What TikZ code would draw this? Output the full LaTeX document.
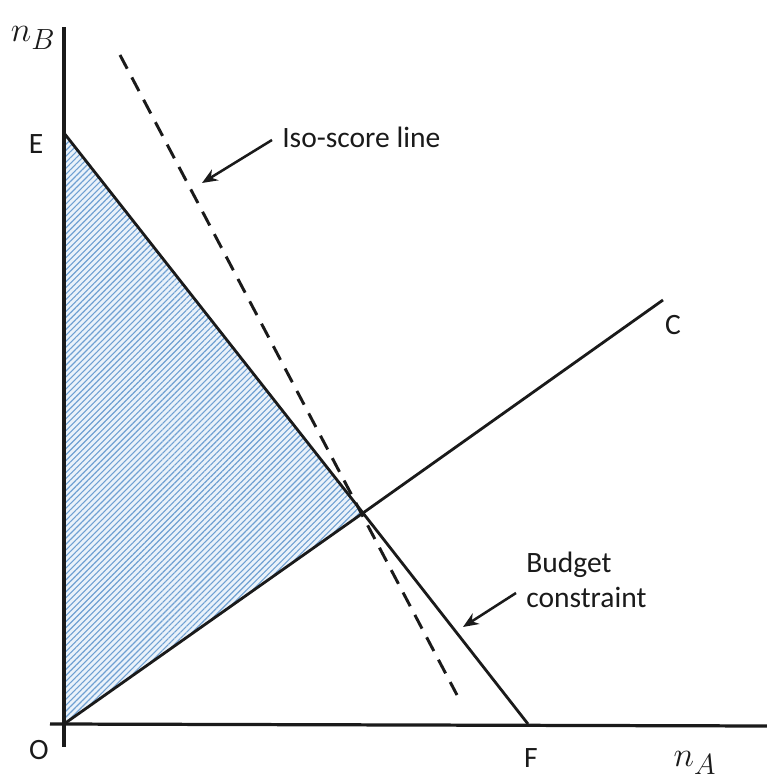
\documentclass[tikz,border=0pt]{standalone}
\usepackage{fontspec}
\setmainfont{Carlito}
\usepackage{tikz}
\usetikzlibrary{arrows.meta,patterns.meta}
\definecolor{ink}{HTML}{1A1A1A}
\definecolor{hatch}{HTML}{6FA0D2}
\definecolor{paleblue}{HTML}{EAF2FA}
\tikzset{axis/.style={line width=2.3pt,draw=ink},
  budget/.style={line width=2pt,draw=ink},
  isoline/.style={line width=2.1pt,draw=ink,dash pattern=on 11pt off 7pt},
  pointer/.style={-{Stealth[length=11pt,width=9pt]},line width=1.8pt,draw=ink},
  lab/.style={font=\fontsize{21}{25}\selectfont,text=ink,inner sep=0pt},
  mlab/.style={font=\fontsize{32}{36}\selectfont,text=ink,inner sep=0pt}}
\begin{document}
\begin{tikzpicture}[x=0.025cm,y=0.025cm]
\useasboundingbox (0,0) rectangle (767,783);
\coordinate (O) at (64,59);
\coordinate (E) at (64,650);
\coordinate (P) at (363,270);
\coordinate (F) at (528,59);
\coordinate (Cend) at (663,483);
\coordinate (ytop) at (64,756);
\coordinate (ybot) at (64,36);
\coordinate (xleft) at (50,59);
\coordinate (xright) at (767,57);
\coordinate (isotop) at (120,728);
\coordinate (isobot) at (457,88);
% feasible region
\fill[paleblue] (O) -- (E) -- (P) -- cycle;
\fill[pattern={Lines[angle=45,distance=3pt,line width=0.8pt]},pattern color=hatch] (O) -- (E) -- (P) -- cycle;
\draw[axis] (ybot) -- (ytop);
\draw[axis] (xleft) -- (xright);
\draw[budget] (E) -- (P) -- (F);
\draw[budget] (O) -- (P) -- (Cend);
\draw[isoline] (isotop) -- (isobot);
\node[mlab] (nB) at (33,745) {$n_B$};
\node[mlab] (nA) at (695,20) {$n_A$};
\node[lab] (Elab) at (36,639) {E};
\node[lab] (Clab) at (673,458) {C};
\node[lab] (Olab) at (39,33) {O};
\node[lab] (Flab) at (531,25) {F};
\node[lab,anchor=west] (isolab) at (282,646) {Iso-score line};
\node[lab,anchor=west,align=left] (budlab) at (526,203) {Budget\\constraint};
\coordinate (isotip) at (202,600);
\coordinate (budtip) at (463,156);
\draw[pointer] (isolab.west) ++(-10,-3) -- (isotip);
\draw[pointer] (budlab.west) ++(-10,-13) -- (budtip);
\end{tikzpicture}
\end{document}
